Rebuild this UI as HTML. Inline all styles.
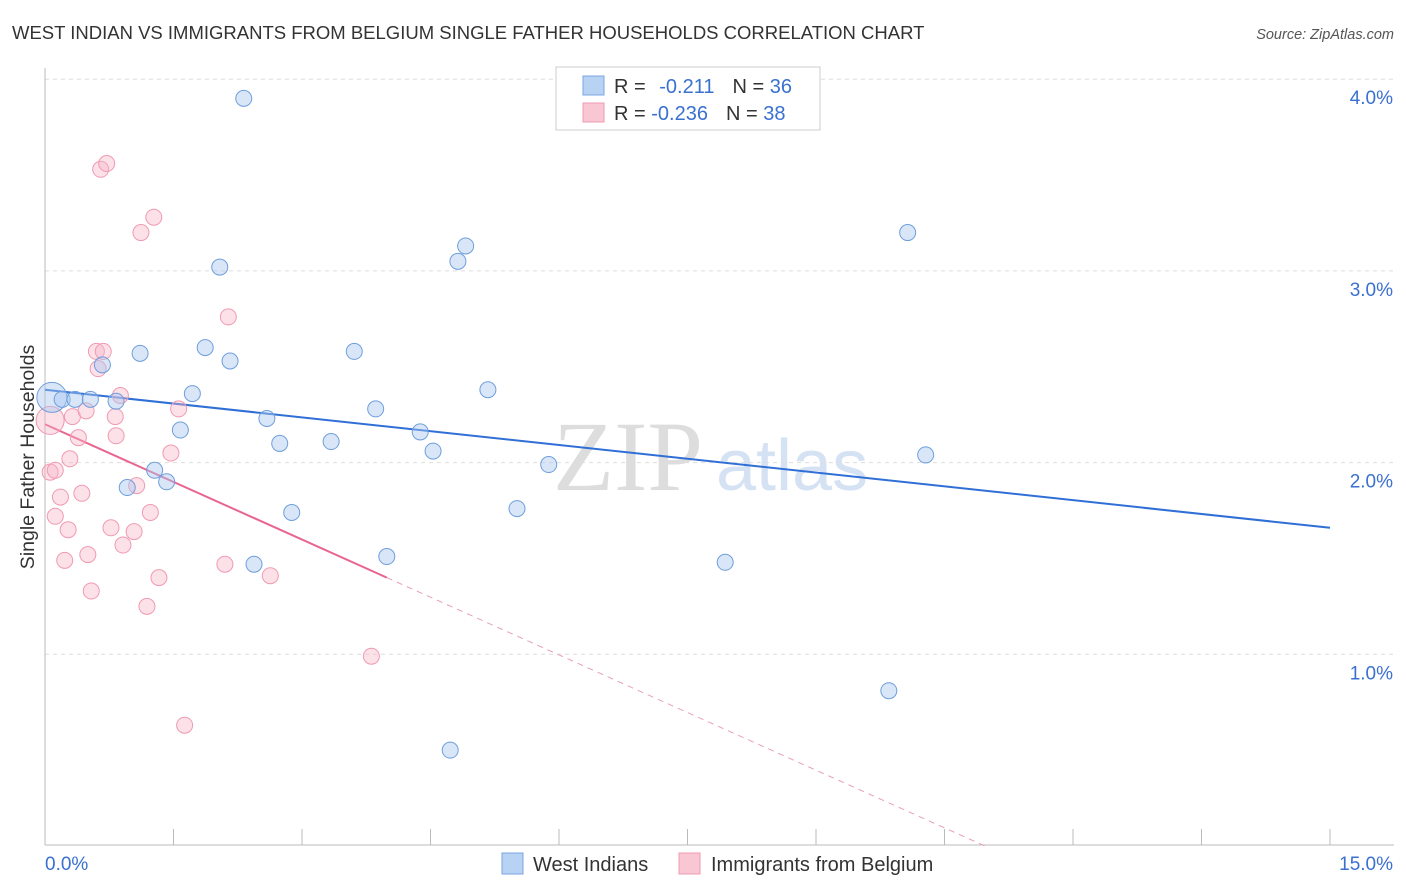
<!DOCTYPE html>
<html><head><meta charset="utf-8"><style>
body{margin:0;background:#fff;font-family:"Liberation Sans",sans-serif;}
svg{display:block}
</style></head><body>
<svg id="chart" width="1406" height="892">
<text x="12" y="39" font-size="18.5" fill="#333">WEST INDIAN VS IMMIGRANTS FROM BELGIUM SINGLE FATHER HOUSEHOLDS CORRELATION CHART</text>
<text x="1394" y="39" font-size="14.5" fill="#555" font-style="italic" text-anchor="end">Source: ZipAtlas.com</text>
<text transform="translate(34,457) rotate(-90)" font-size="19.5" fill="#333" text-anchor="middle">Single Father Households</text>
<g><text x="553" y="490" font-size="100" fill="#ddd" font-family="Liberation Serif,serif">ZIP</text><text x="716" y="490" font-size="72" fill="#d4e2f4">atlas</text></g>
<g id="grid"></g><g id="axes"></g><g id="lines"></g><g id="pts"></g>
<g>
<rect x="556" y="67" width="264" height="63" fill="#fff" stroke="#ccc"/>
<rect x="583" y="76" width="21" height="19" fill="#b8d2f4" stroke="#7aa6e0"/>
<rect x="583" y="103" width="21" height="19" fill="#f9c6d4" stroke="#f09ab2"/>
<text x="614" y="93" font-size="20" fill="#333">R = <tspan fill="#3a70d0" dx="8">-0.211</tspan><tspan dx="18" fill="#333">N = </tspan><tspan fill="#3a70d0">36</tspan></text>
<text x="614" y="120" font-size="20" fill="#333">R = <tspan fill="#3a70d0">-0.236</tspan><tspan dx="18" fill="#333">N = </tspan><tspan fill="#3a70d0">38</tspan></text>
</g>
<g>
<rect x="502" y="853" width="21" height="21" fill="#b8d2f4" stroke="#7aa6e0"/>
<text x="533" y="871" font-size="20" fill="#333">West Indians</text>
<rect x="679" y="853" width="21" height="21" fill="#f9c6d4" stroke="#f09ab2"/>
<text x="711" y="871" font-size="20" fill="#333">Immigrants from Belgium</text>
</g>
</svg>
<script>
const blueX=[0.08,0.20,0.35,0.53,0.67,0.83,0.96,1.11,1.28,1.42,1.58,1.72,1.87,2.04,2.16,2.32,2.44,2.59,2.74,2.88,3.34,3.61,3.86,3.99,4.38,4.53,4.73,4.82,4.91,5.17,5.51,5.88,7.94,9.85,10.07,10.28];
const blueY=[2.34,2.33,2.33,2.33,2.51,2.32,1.87,2.57,1.96,1.90,2.17,2.36,2.60,3.02,2.53,3.90,1.47,2.23,2.10,1.74,2.11,2.58,2.28,1.51,2.16,2.06,0.50,3.05,3.13,2.38,1.76,1.99,1.48,0.81,3.20,2.04];
const pinkX=[0.06,0.06,0.12,0.12,0.18,0.23,0.27,0.29,0.32,0.39,0.43,0.48,0.50,0.54,0.60,0.62,0.65,0.68,0.72,0.77,0.82,0.83,0.88,0.91,1.04,1.07,1.12,1.19,1.23,1.27,1.33,1.47,1.56,1.63,2.10,2.14,2.63,3.81];
const pinkY=[2.22,1.95,1.96,1.72,1.82,1.49,1.65,2.02,2.24,2.13,1.84,2.27,1.52,1.33,2.58,2.49,3.53,2.58,3.56,1.66,2.24,2.14,2.35,1.57,1.64,1.88,3.20,1.25,1.74,3.28,1.40,2.05,2.28,0.63,1.47,2.76,1.41,0.99];
const yTicks=[1,2,3,4];
const yTickLabels=["1.0%","2.0%","3.0%","4.0%"];
const xTicks=[0,1.5,3,4.5,6,7.5,9,10.5,12,13.5,15];
const blueTrend=[2.38,1.66];
const pinkTrend=[2.20,1.40,3.99];
const NS="http://www.w3.org/2000/svg";
const sx=v=>45+v*(1285/15);
const sy=v=>846-v*191.7;
function mk(tag,parent,attrs){const e=document.createElementNS(NS,tag);for(const k in attrs)e.setAttribute(k,attrs[k]);document.getElementById(parent).appendChild(e);return e;}
yTicks.forEach((t,i)=>{
 const g=mk('line','grid',{x1:45,x2:1394,y1:sy(t),y2:sy(t),stroke:'#ddd','stroke-dasharray':'4,4'});
 
 
 const l=mk('text','axes',{x:1393,y:sy(t)+25,'font-size':19,fill:'#3a70d0','text-anchor':'end'});
 l.textContent=yTickLabels[i];
 
 
});
const xa=mk('line','axes',{x1:45,x2:1394,y1:845,y2:845,stroke:'#bbb'});


const ya=mk('line','axes',{x1:45,x2:45,y1:68,y2:845,stroke:'#bbb'});


xTicks.forEach(t=>{
 const k=mk('line','axes',{x1:sx(t),x2:sx(t),y1:829,y2:845,stroke:'#bbb'});
 
 
});
const x0=mk('text','axes',{x:45,y:870,'font-size':19,fill:'#3a70d0'});x0.textContent='0.0%';


const x1=mk('text','axes',{x:1393,y:870,'font-size':19,fill:'#3a70d0','text-anchor':'end'});x1.textContent='15.0%';


const bl=mk('line','lines',{x1:sx(0),y1:sy(blueTrend[0]),x2:sx(15),y2:sy(blueTrend[1]),stroke:'#2f6fd6','stroke-width':2});


const slope=(pinkTrend[1]-pinkTrend[0])/pinkTrend[2];
const xz=-pinkTrend[0]/slope;
const pl=mk('line','lines',{x1:sx(0),y1:sy(pinkTrend[0]),x2:sx(pinkTrend[2]),y2:sy(pinkTrend[1]),stroke:'#e8658f','stroke-width':2});


const pd=mk('line','lines',{x1:sx(pinkTrend[2]),y1:sy(pinkTrend[1]),x2:sx(xz),y2:sy(0),stroke:'#e8a0b8','stroke-width':1,'stroke-dasharray':'6,5'});


pinkX.forEach((x,i)=>{
 const c=mk('circle','pts',{cx:sx(x),cy:sy(pinkY[i]),r:i===0?14:8,fill:'rgba(247,180,200,0.4)',stroke:'#f09ab2','stroke-width':1});
 
 
});
blueX.forEach((x,i)=>{
 const c=mk('circle','pts',{cx:sx(x),cy:sy(blueY[i]),r:i===0?15:8,fill:'rgba(169,200,240,0.45)',stroke:'#6f9edc','stroke-width':1});
 
 
});
</script>
</body></html>
